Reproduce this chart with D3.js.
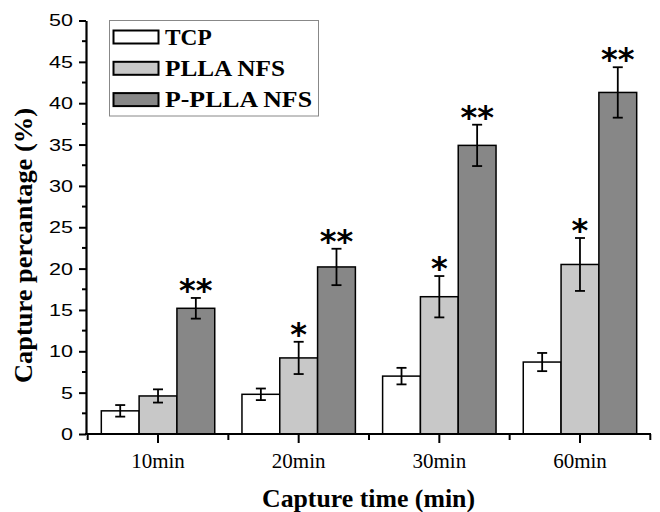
<!DOCTYPE html>
<html>
<head>
<meta charset="utf-8">
<script src="https://cdn.jsdelivr.net/npm/d3@7"></script>
<style>
    body { margin: 0; background: #fff; }
    svg { display: block; }
</style>
</head>
<body>
<script>
// Chart data
const categories = ["10min", "20min", "30min", "60min"];
const seriesNames = ["TCP", "PLLA NFS", "P-PLLA NFS"];
const tcpValues = [2.8, 4.8, 7.0, 8.7];
const tcpErrors = [0.7, 0.7, 1.0, 1.1];
const pllaValues = [4.6, 9.2, 16.6, 20.5];
const pllaErrors = [0.8, 1.95, 2.5, 3.2];
const ppllaValues = [15.2, 20.2, 34.9, 41.3];
const ppllaErrors = [1.25, 2.2, 2.5, 3.05];
const pllaStars = ["", "*", "*", "*"];
const ppllaStars = ["**", "**", "**", "**"];
const yTicks = [0, 5, 10, 15, 20, 25, 30, 35, 40, 45, 50];

const width = 660, height = 512;
const colors = ["#ffffff", "#c8c8c8", "#878787"];

// build rows for drawing
const seriesValues = [tcpValues, pllaValues, ppllaValues];
const seriesErrors = [tcpErrors, pllaErrors, ppllaErrors];
const seriesStars = [null, pllaStars, ppllaStars];
const rows = [];
categories.forEach((cat, i) => {
    seriesNames.forEach((s, j) => {
        rows.push({
            cat: cat, series: s, idx: j,
            value: seriesValues[j][i],
            err: seriesErrors[j][i],
            star: seriesStars[j] ? seriesStars[j][i] : ""
        });
    });
});

const svg = d3.select("body").append("svg")
    .attr("width", width)
    .attr("height", height);

const x0 = d3.scaleBand().domain(categories).range([87.7, 650.3]).padding(0);
const x1 = d3.scaleBand().domain(seriesNames).range([0, x0.bandwidth()]).paddingInner(0).paddingOuter(0.36);
const y = d3.scaleLinear().domain([0, 50]).range([434, 20.5]);

// bars
svg.append("g")
    .selectAll("rect")
    .data(rows)
    .join("rect")
    .attr("x", d => x0(d.cat) + x1(d.series))
    .attr("y", d => y(d.value))
    .attr("width", x1.bandwidth())
    .attr("height", d => y(0) - y(d.value))
    .attr("fill", d => colors[d.idx])
    .attr("stroke", "#000")
    .attr("stroke-width", 1.5);

// error bars
const eb = svg.append("g").attr("stroke", "#000").attr("stroke-width", 1.8);
rows.forEach(d => {
    const cx = x0(d.cat) + x1(d.series) + x1.bandwidth() / 2;
    eb.append("line").attr("x1", cx).attr("x2", cx).attr("y1", y(d.value + d.err)).attr("y2", y(d.value - d.err));
    eb.append("line").attr("x1", cx - 5).attr("x2", cx + 5).attr("y1", y(d.value + d.err)).attr("y2", y(d.value + d.err));
    eb.append("line").attr("x1", cx - 5).attr("x2", cx + 5).attr("y1", y(d.value - d.err)).attr("y2", y(d.value - d.err));
});

// significance stars
svg.append("g")
    .selectAll("text")
    .data(rows.filter(d => d.star))
    .join("text")
    .attr("x", d => x0(d.cat) + x1(d.series) + x1.bandwidth() / 2)
    .attr("y", d => y(d.value + d.err) + 3)
    .attr("text-anchor", "middle")
    .attr("font-family", "DejaVu Sans")
    .attr("font-weight", "bold")
    .attr("font-size", 32)
    .text(d => d.star);

// y axis
const yAxis = svg.append("g")
    .attr("transform", "translate(86,0)")
    .call(d3.axisLeft(y).tickValues(yTicks).tickSize(7).tickPadding(6).tickSizeOuter(0));
yAxis.select(".domain").attr("stroke-width", 2.2);
yAxis.selectAll(".tick line").attr("stroke-width", 2);
yAxis.selectAll("text")
    .attr("font-family", "Liberation Sans, Arial, sans-serif")
    .attr("font-size", 17)
    .attr("fill", "#000")
    .attr("textLength", d => String(d).length * 12)
    .attr("lengthAdjust", "spacingAndGlyphs");

// y minor ticks
svg.append("g")
    .selectAll("line")
    .data(d3.range(2.5, 50, 5))
    .join("line")
    .attr("x1", 82).attr("x2", 86)
    .attr("y1", d => y(d)).attr("y2", d => y(d))
    .attr("stroke", "#000").attr("stroke-width", 2);

// x axis
const xAxis = svg.append("g")
    .attr("transform", "translate(0,434)")
    .call(d3.axisBottom(x0).tickSize(9).tickPadding(10).tickSizeOuter(0));
xAxis.select(".domain").attr("d", "M85,0H651").attr("stroke-width", 2.2);
xAxis.selectAll(".tick line").attr("stroke-width", 2);
xAxis.selectAll("text")
    .attr("font-family", "Liberation Serif, Times New Roman, serif")
    .attr("font-size", 21)
    .attr("fill", "#000");

// x minor ticks at category boundaries
svg.append("g")
    .selectAll("line")
    .data(categories.map(c => x0(c)).concat([x0.range()[1]]))
    .join("line")
    .attr("x1", d => d).attr("x2", d => d)
    .attr("y1", 434).attr("y2", 440)
    .attr("stroke", "#000").attr("stroke-width", 2);

// axis titles
svg.append("text")
    .attr("x", 368.5).attr("y", 507)
    .attr("text-anchor", "middle")
    .attr("font-family", "Liberation Serif, Times New Roman, serif")
    .attr("font-weight", "bold")
    .attr("font-size", 25)
    .attr("textLength", 213)
    .attr("lengthAdjust", "spacingAndGlyphs")
    .text("Capture time (min)");

svg.append("text")
    .attr("transform", "translate(31.5,245.5) rotate(-90)")
    .attr("text-anchor", "middle")
    .attr("font-family", "Liberation Serif, Times New Roman, serif")
    .attr("font-weight", "bold")
    .attr("font-size", 25)
    .attr("textLength", 275)
    .attr("lengthAdjust", "spacingAndGlyphs")
    .text("Capture percantage (%)");

// legend
const legend = svg.append("g");
legend.append("rect")
    .attr("x", 109.5).attr("y", 20.5)
    .attr("width", 209).attr("height", 95.5)
    .attr("fill", "#fff")
    .attr("stroke", "#888")
    .attr("stroke-width", 1);

const legendWidths = [46.7, 120, 147];
seriesNames.forEach((s, j) => {
    const cy = 37 + j * 31.3;
    legend.append("rect")
        .attr("x", 113.5).attr("y", cy - 6.5)
        .attr("width", 45).attr("height", 13)
        .attr("fill", colors[j])
        .attr("stroke", "#000")
        .attr("stroke-width", 2);
    legend.append("text")
        .attr("x", 165).attr("y", cy + 7.5)
        .attr("font-family", "Liberation Serif, Times New Roman, serif")
        .attr("font-weight", "bold")
        .attr("font-size", 24)
        .attr("textLength", legendWidths[j])
        .attr("lengthAdjust", "spacingAndGlyphs")
        .text(s);
});
</script>
</body>
</html>
